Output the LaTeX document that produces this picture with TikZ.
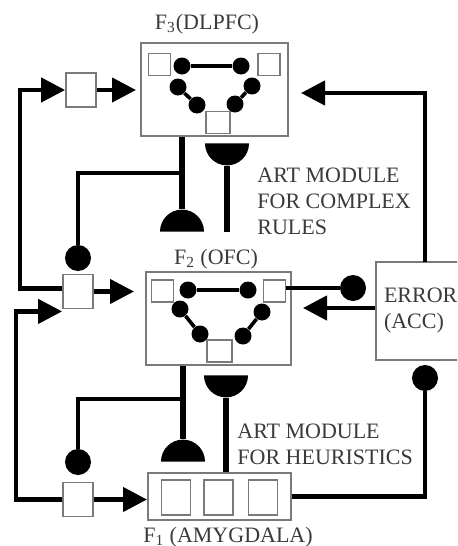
\documentclass[tikz,border=0pt]{standalone}
\usepackage{fontspec}
\setmainfont{Liberation Serif}
\usepackage{xcolor}
\usepackage{tikz}
\usetikzlibrary{positioning,arrows.meta,shapes.geometric,calc}
\definecolor{cInk}{HTML}{3A3A3A}
\definecolor{cEdge}{HTML}{7A7A7A}
\begin{document}
\begin{tikzpicture}[x=0.5pt,y=-0.5pt,font=\fontsize{11}{13}\selectfont,
  area/.style={draw=cEdge,line width=1pt,fill=white,inner sep=0},
  cell/.style={draw=cEdge,line width=0.9pt,inner sep=0,minimum width=11pt,minimum height=11pt},
  slot/.style={cell,minimum width=14.5pt,minimum height=17.5pt},
  gate/.style={cell,minimum width=15pt,minimum height=17pt},
  unit/.style={circle,fill=black,inner sep=0,minimum size=8.5pt},
  knob/.style={circle,fill=black,inner sep=0,minimum size=13pt},
  cup/.style={semicircle,fill=black,inner sep=0,minimum width=22pt,minimum height=11pt,anchor=chord center},
  link/.style={line width=1.8pt},
  wire/.style={line width=2.2pt},
  stem/.style={line width=3pt},
  ar/.style={wire,-{Triangle[length=12pt,width=12pt]}},
  lbl/.style={anchor=base,inner sep=0,text=cInk},
  note/.style={anchor=west,align=left,inner sep=0,text=cInk}]
  \useasboundingbox (0,0) rectangle (457,546);
  \clip (0,0) rectangle (457,546);
  % the three layers and the error unit
  \node[area,minimum width=73.5pt,minimum height=46.5pt] (f3) at (214.5,89.5) {};
  \node[area,minimum width=72.5pt,minimum height=46.5pt] (f2) at (218.5,318.5) {};
  \node[area,minimum width=71.5pt,minimum height=23.5pt] (f1) at (219.5,496.5) {};
  \node[area,anchor=west,text width=60pt,inner xsep=4pt,minimum height=49pt,align=left,text=cInk] (err) at (375,311) {ERROR\\(ACC)};
  \node[lbl] (f3lbl) at (207,29.5) {F\textsubscript{3}(DLPFC)};
  \node[lbl] (f2lbl) at (216,264.5) {F\textsubscript{2} (OFC)};
  \node[lbl] (f1lbl) at (228,542) {F\textsubscript{1} (AMYGDALA)};
  % F3 network
  \node[cell] (f3l) at (159.5,64.5) {};
  \node[cell] (f3r) at (269,64.5) {};
  \node[cell,minimum width=12pt] (f3b) at (218,122.5) {};
  \node[unit] (n31) at (182,66) {};
  \node[unit] (n32) at (241,66) {};
  \node[unit] (n33) at (178,87) {};
  \node[unit] (n34) at (197,105) {};
  \node[unit] (n35) at (252,86) {};
  \node[unit] (n36) at (235,104) {};
  \draw[link] (n31) -- (n32);
  \draw[link] (n33) -- (n34);
  \draw[link] (n35) -- (n36);
  % F2 network
  \node[cell] (f2l) at (162.5,291) {};
  \node[cell] (f2r) at (274.5,291) {};
  \node[cell,minimum width=12.5pt] (f2b) at (219.5,351) {};
  \node[unit] (n21) at (188,290) {};
  \node[unit] (n22) at (248,290) {};
  \node[unit] (n23) at (180,309) {};
  \node[unit] (n24) at (200,334) {};
  \node[unit] (n25) at (262,312) {};
  \node[unit] (n26) at (243,336) {};
  \draw[link] (n21) -- (n22);
  \draw[link] (n23) -- (n24);
  \draw[link] (n25) -- (n26);
  % F1 slots
  \node[slot] (f1a) at (176,497.5) {};
  \node[slot] (f1b) at (218.5,497.5) {};
  \node[slot] (f1c) at (263,497.5) {};
  % gates on the left
  \node[gate] (g3) at (81,90) {};
  \node[gate] (g2) at (78,291.5) {};
  \node[gate] (g1) at (78,499.5) {};
  \coordinate (railA) at (20,0);
  \coordinate (railB) at (16,0);
  \draw[ar] ([yshift=1.5pt]g2.west) -| (g3.west -| railA) -- (g3.west);
  \draw[ar] (g1.west) -| ([yshift=-1pt]g2.south west -| railB) -- ([yshift=-1pt]g2.south west);
  \draw[ar,shorten >=2pt] (g3) -- (g3 -| f3.west);
  \draw[ar,shorten >=5.5pt] (g2.east) -- (g2.east -| f2.west);
  \draw[ar] (g1) -- (g1 -| f1.west);
  % ART module for complex rules
  \node[cup] (hd1) at (182,232) {};
  \draw[stem] (hd1.apex |- f3.south) -- (hd1.apex);
  \coordinate (j3) at (182,173);
  \node[knob] (d1) at (78,258) {};
  \draw[wire] (j3) -| (d1);
  \node[cup,shape border rotate=180] (hd2) at (227,143) {};
  \coordinate (t3) at (227,232);
  \draw[stem] (hd2.apex) -- (t3);
  \node[note] (rules) at (257,201.5) {ART MODULE\\FOR COMPLEX\\RULES};
  % ART module for heuristics
  \node[cup] (hd3) at (183,462) {};
  \draw[stem] (hd3.apex |- f2.south) -- (hd3.apex);
  \coordinate (j2) at (183,399);
  \node[knob] (d3) at (78,462) {};
  \draw[wire] (j2) -| (d3);
  \node[cup,shape border rotate=180] (hd4) at (226,375) {};
  \draw[stem] (hd4.apex) -- (hd4.apex |- f1.north);
  \node[note] (heur) at (237,444.5) {ART MODULE\\FOR HEURISTICS};
  % error signals
  \coordinate (eTop) at (425,262);
  \draw[ar,shorten >=6pt] (eTop) |- ([yshift=-1.75pt]f3.east);
  \draw[ar,shorten >=5.5pt] ([yshift=1.5pt]err.west) -- ([yshift=1.5pt]err.west -| f2.east);
  \node[knob] (d4) at (353,288) {};
  \draw[wire] (d4 -| f2r.east) -- (d4);
  \node[knob] (d5) at (425,378) {};
  \draw[wire] (f1.east) -| (d5);
\end{tikzpicture}
\end{document}
